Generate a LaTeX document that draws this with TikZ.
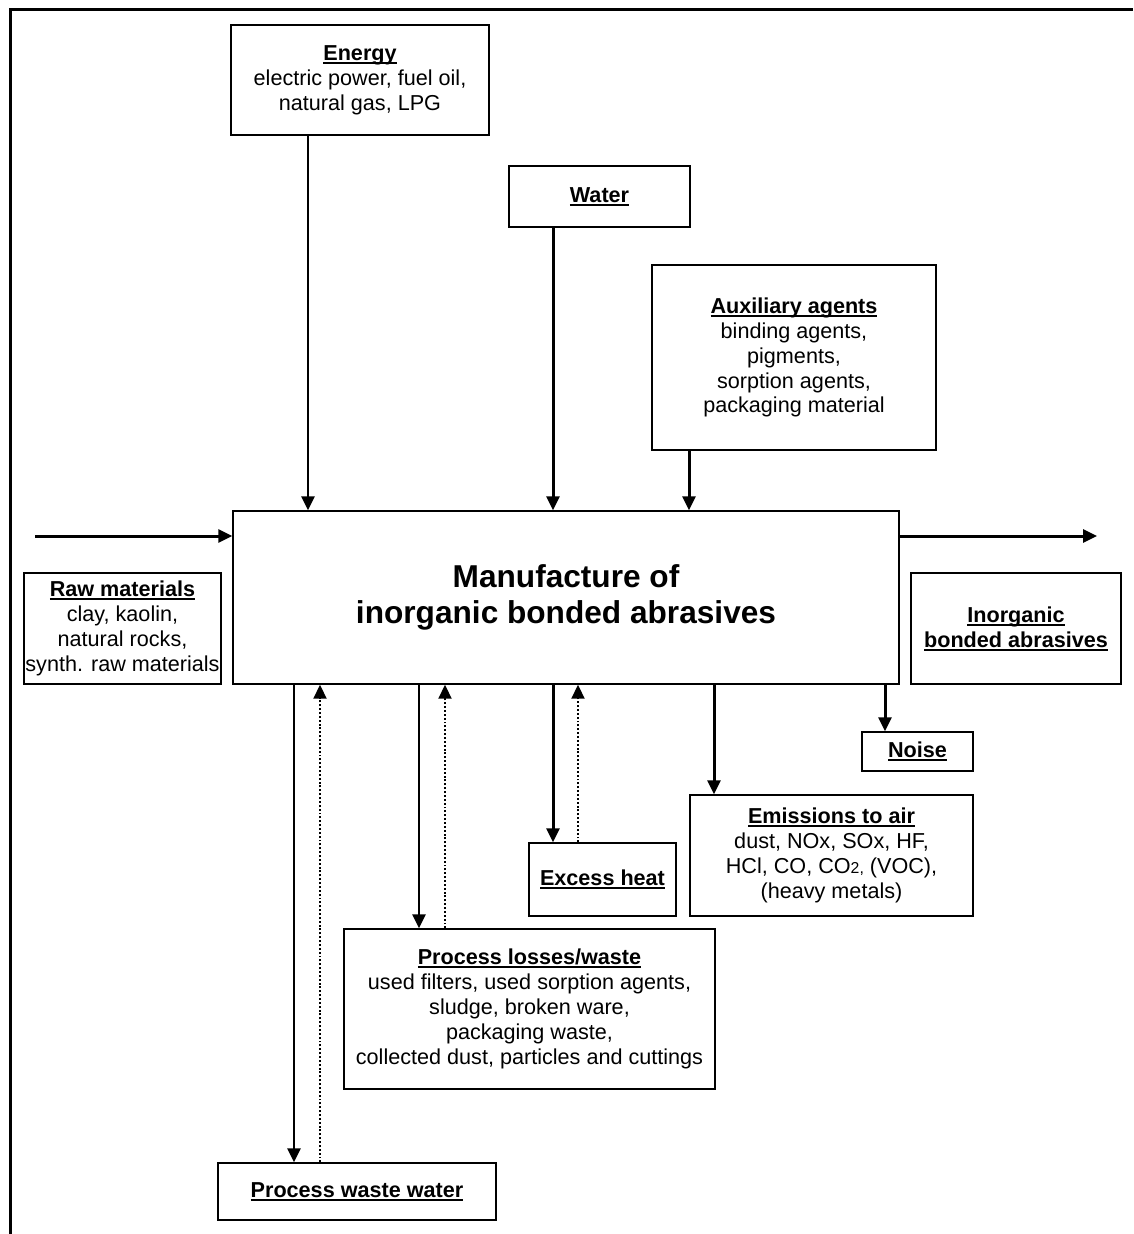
\documentclass[tikz,border=0pt]{standalone}
\usepackage{fontspec}
\setmainfont{Liberation Sans}
\usetikzlibrary{arrows.meta}

% bold heading, underline just under the baseline
\newcommand{\head}[1]{\setbox0\hbox{\textbf{#1}}\rlap{\rule[-2pt]{\wd0}{1.1pt}}\box0}

\tikzset{
  box/.style 2 args={draw, line width=0.8pt, align=center, inner sep=0pt,
    minimum width=#1*0.02cm, minimum height=#2*0.02cm,
    font=\fontsize{12.3pt}{14.2pt}\selectfont},
  flow/.style={line width=1.7pt, -{Triangle[length=2.8mm,width=2.6mm]}},
  back/.style={line width=1.1pt, dash pattern=on 1.1pt off 1.1pt,
    -{Triangle[length=2.8mm,width=2.6mm]}},
}

\begin{document}
\begin{tikzpicture}[x=0.02cm, y=-0.02cm]
\useasboundingbox (0,0) rectangle (1133,1234);

% Frame
\draw [line width=1.7pt] (10.5,1234) -- (10.5,9.5) -- (1133,9.5);

% Inputs
\node [box={258}{110}] (energy) at (360,80)
  {\head{Energy}\\electric power, fuel oil,\\natural gas, LPG};
\node [box={181}{61}] (water) at (599.5,196.5) {\head{Water}};
\node [box={284}{185}] (aux) at (794,357.5)
  {\head{Auxiliary agents}\\binding agents,\\pigments,\\sorption agents,\\packaging material};
\node [box={197}{111}] (raw) at (122.5,628.5)
  {\head{Raw materials}\\clay, kaolin,\\natural rocks,\\synth. raw materials};

% Main process
\node [box={666}{173}, font=\fontsize{18pt}{20.5pt}\selectfont\bfseries] (main) at (566,597.5)
  {Manufacture of\\inorganic bonded abrasives};

% Outputs
\node [box={210}{111}] (prod) at (1016,628.5)
  {\head{Inorganic}\\\head{bonded abrasives}};
\node [box={111}{39}] (noise) at (917.5,751.5) {\head{Noise}};
\node [box={283}{121}] (emis) at (831.5,855.5)
  {\head{Emissions to air}\\dust, NOx, SOx, HF,\\HCl, CO, CO{\small 2,} (VOC),\\(heavy metals)};
\node [box={147}{73}] (heat) at (602.5,879.5) {\head{Excess heat}};
\node [box={371}{160}] (loss) at (529.5,1009)
  {\head{Process losses/waste}\\used filters, used sorption agents,\\sludge, broken ware,\\packaging waste,\\collected dust, particles and cuttings};
\node [box={278}{57}] (ww) at (357,1191.5) {\head{Process waste water}};

% Arrows in
\coordinate (in) at (35,536);
\coordinate (out) at (1097,536);
\draw [flow] (in) -- (in -| main.west);
\draw [flow] (out -| main.east) -- (out);
\foreach \x/\n in {308/energy, 553/water, 689/aux}
{
  \coordinate (c) at (\x,0);
  \draw [flow] (\n.south -| c) -- (main.north -| c);
}

% Arrows out
\foreach \x/\n in {294/ww, 419/loss, 553/heat, 714/emis, 885/noise}
{
  \coordinate (c) at (\x,0);
  \draw [flow] (main.south -| c) -- (\n.north -| c);
}
% Returns (dotted)
\foreach \x/\n in {320/ww, 445/loss, 578/heat}
{
  \coordinate (c) at (\x,0);
  \draw [back] (\n.north -| c) -- (main.south -| c);
}
\end{tikzpicture}
\end{document}
